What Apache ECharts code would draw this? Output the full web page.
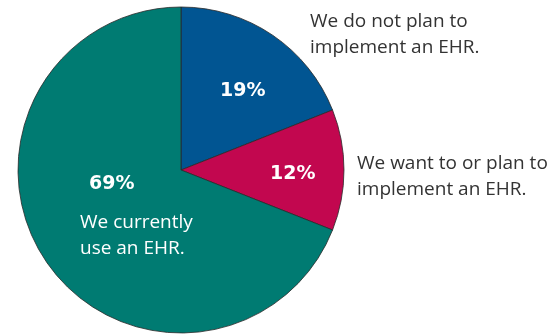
<!DOCTYPE html>
<html><head><meta charset="utf-8">
<script src="https://cdn.jsdelivr.net/npm/echarts@6/dist/echarts.min.js"></script>
<style>html,body{margin:0;padding:0;background:#fff}#c{width:557px;height:335px}</style>
</head><body><div id="c"></div>
<script>
const categories = ["We do not plan to\nimplement an EHR.", "We want to or plan to\nimplement an EHR.", "We currently\nuse an EHR."];
const values = [19, 12, 69];
const pctLabels = ["19%", "12%", "69%"];
const colors = ["#015592", "#C2074F", "#007B72"];

const chart = echarts.init(document.getElementById('c'));
const font = '"Open Sans", "Liberation Sans", Arial, sans-serif';
const bfont = '"DejaVu Sans", Arial, sans-serif';
const pctStyle = {fill: '#fff', font: 'bold 19px ' + bfont};
chart.setOption({
  animation: false,
  series: [{
    type: 'pie',
    center: [181, 170],
    radius: [0, 163],
    startAngle: 90,
    clockwise: true,
    label: {show: false},
    labelLine: {show: false},
    itemStyle: {borderColor: '#2a2a2a', borderWidth: 0.8},
    data: values.map((v, i) => ({value: v, name: categories[i], itemStyle: {color: colors[i]}}))
  }],
  graphic: [
    {type: 'text', z: 100, left: 220, top: 82, style: Object.assign({text: pctLabels[0]}, pctStyle)},
    {type: 'text', z: 100, left: 270, top: 165, style: Object.assign({text: pctLabels[1]}, pctStyle)},
    {type: 'text', z: 100, left: 89, top: 175, style: Object.assign({text: pctLabels[2]}, pctStyle)},
    {type: 'text', z: 100, left: 80, top: 210, style: {text: categories[2], fill: '#fff', font: '19px ' + font, lineHeight: 26}},
    {type: 'text', z: 100, left: 310, top: 9, style: {text: categories[0], fill: '#333', font: '19px ' + font, lineHeight: 26}},
    {type: 'text', z: 100, left: 357, top: 151, style: {text: categories[1], fill: '#333', font: '19px ' + font, lineHeight: 26}}
  ]
});
</script></body></html>
